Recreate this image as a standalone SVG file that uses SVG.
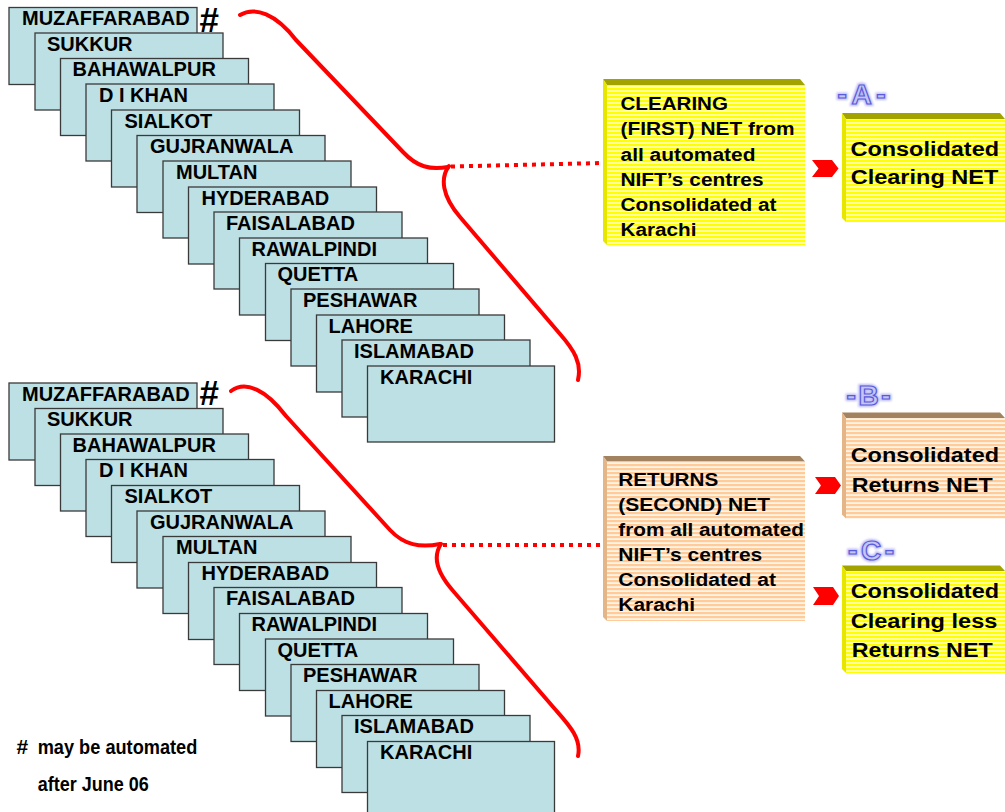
<svg xmlns="http://www.w3.org/2000/svg" width="1005" height="812" viewBox="0 0 1005 812">
<defs>
<pattern id="ys" patternUnits="userSpaceOnUse" width="4" height="4"><rect width="4" height="4" fill="#FFFFC4"/><rect width="4" height="2.2" fill="#FFFF00"/></pattern>
<pattern id="ps" patternUnits="userSpaceOnUse" width="4" height="4"><rect width="4" height="4" fill="#FFF4E8"/><rect width="4" height="2.2" fill="#FFCC99"/></pattern>
<filter id="glow" x="-20%" y="-20%" width="140%" height="140%"><feGaussianBlur stdDeviation="1.2"/></filter>
</defs>
<style>
.card rect{fill:#BCE0E4;stroke:#3a3a3a;stroke-width:1.3}
.card text,.t{font-family:"Liberation Sans",Arial,sans-serif;font-weight:bold;fill:#000}
.card text{font-size:20px}
.bt{font-size:18px}
.rt{font-size:20px}
.yf{fill:url(#ys)}
.pf{fill:url(#ps)}
.ytop{fill:#A3A300}
.yleft{fill:#E6E600}
.ptop{fill:#A3835F}
.pleft{fill:#E3B587}
.brace{fill:none;stroke:#FF0000;stroke-width:4;stroke-linecap:round;stroke-linejoin:round}
.dot{fill:none;stroke:#FF0000;stroke-width:4;stroke-dasharray:4 5}
.chev{fill:#FF0000}
.lbl{font-family:"Liberation Sans",Arial,sans-serif;font-weight:bold;font-size:28px;text-anchor:middle}
.lblh{fill:#8C8CF0;stroke:#8C8CF0;stroke-width:4;opacity:.6;filter:url(#glow)}
.lblf{fill:#C4C6F2;stroke:#5A5ADC;stroke-width:1.2}
.note{font-size:21px}
.hash{font-size:35px}
</style>

<g id="stack1">
<g id="s1-muzaffarabad" class="card" transform="translate(9,7.5)"><rect width="188" height="77"/><text x="13" y="17.5">MUZAFFARABAD</text></g>
<g id="s1-sukkur" class="card" transform="translate(35,33)"><rect width="188" height="77"/><text x="12" y="17.5">SUKKUR</text></g>
<g id="s1-bahawalpur" class="card" transform="translate(60.5,58.5)"><rect width="188" height="77"/><text x="12" y="17.5">BAHAWALPUR</text></g>
<g id="s1-dikhan" class="card" transform="translate(86,84)"><rect width="188" height="77"/><text x="13" y="17.5">D I KHAN</text></g>
<g id="s1-sialkot" class="card" transform="translate(111.5,110)"><rect width="188" height="77"/><text x="13" y="17.5">SIALKOT</text></g>
<g id="s1-gujranwala" class="card" transform="translate(137,135.5)"><rect width="188" height="77"/><text x="13" y="17.5">GUJRANWALA</text></g>
<g id="s1-multan" class="card" transform="translate(163,161)"><rect width="188" height="77"/><text x="13" y="17.5">MULTAN</text></g>
<g id="s1-hyderabad" class="card" transform="translate(188.5,187)"><rect width="188" height="77"/><text x="13" y="17.5">HYDERABAD</text></g>
<g id="s1-faisalabad" class="card" transform="translate(214,212)"><rect width="188" height="77"/><text x="12" y="17.5">FAISALABAD</text></g>
<g id="s1-rawalpindi" class="card" transform="translate(239.5,238)"><rect width="188" height="77"/><text x="12" y="17.5">RAWALPINDI</text></g>
<g id="s1-quetta" class="card" transform="translate(265.5,263.5)"><rect width="188" height="77"/><text x="12" y="17.5">QUETTA</text></g>
<g id="s1-peshawar" class="card" transform="translate(291,289)"><rect width="188" height="77"/><text x="12" y="17.5">PESHAWAR</text></g>
<g id="s1-lahore" class="card" transform="translate(316.5,315)"><rect width="188" height="77"/><text x="12" y="17.5">LAHORE</text></g>
<g id="s1-islamabad" class="card" transform="translate(342,340)"><rect width="188" height="77"/><text x="12" y="17.5">ISLAMABAD</text></g>
<g id="s1-karachi" class="card" transform="translate(367.5,366)"><rect width="187" height="76"/><text x="12.5" y="17.5">KARACHI</text></g>
<text id="s1-hash" class="t hash" x="199.5" y="31.5">#</text>
</g>

<g id="stack2" transform="translate(0,375.5)">
<g id="s2-muzaffarabad" class="card" transform="translate(9,7.5)"><rect width="188" height="77"/><text x="13" y="17.5">MUZAFFARABAD</text></g>
<g id="s2-sukkur" class="card" transform="translate(35,33)"><rect width="188" height="77"/><text x="12" y="17.5">SUKKUR</text></g>
<g id="s2-bahawalpur" class="card" transform="translate(60.5,58.5)"><rect width="188" height="77"/><text x="12" y="17.5">BAHAWALPUR</text></g>
<g id="s2-dikhan" class="card" transform="translate(86,84)"><rect width="188" height="77"/><text x="13" y="17.5">D I KHAN</text></g>
<g id="s2-sialkot" class="card" transform="translate(111.5,110)"><rect width="188" height="77"/><text x="13" y="17.5">SIALKOT</text></g>
<g id="s2-gujranwala" class="card" transform="translate(137,135.5)"><rect width="188" height="77"/><text x="13" y="17.5">GUJRANWALA</text></g>
<g id="s2-multan" class="card" transform="translate(163,161)"><rect width="188" height="77"/><text x="13" y="17.5">MULTAN</text></g>
<g id="s2-hyderabad" class="card" transform="translate(188.5,187)"><rect width="188" height="77"/><text x="13" y="17.5">HYDERABAD</text></g>
<g id="s2-faisalabad" class="card" transform="translate(214,212)"><rect width="188" height="77"/><text x="12" y="17.5">FAISALABAD</text></g>
<g id="s2-rawalpindi" class="card" transform="translate(239.5,238)"><rect width="188" height="77"/><text x="12" y="17.5">RAWALPINDI</text></g>
<g id="s2-quetta" class="card" transform="translate(265.5,263.5)"><rect width="188" height="77"/><text x="12" y="17.5">QUETTA</text></g>
<g id="s2-peshawar" class="card" transform="translate(291,289)"><rect width="188" height="77"/><text x="12" y="17.5">PESHAWAR</text></g>
<g id="s2-lahore" class="card" transform="translate(316.5,315)"><rect width="188" height="77"/><text x="12" y="17.5">LAHORE</text></g>
<g id="s2-islamabad" class="card" transform="translate(342,340)"><rect width="188" height="77"/><text x="12" y="17.5">ISLAMABAD</text></g>
<g id="s2-karachi" class="card" transform="translate(367.5,366)"><rect width="187" height="76"/><text x="12.5" y="17.5">KARACHI</text></g>
<text id="s2-hash" class="t hash" x="199.5" y="29.5">#</text>
</g>

<g id="connectors">
<path class="brace" d="M240,15 C255,6 276,14 296,40 L403,152 C417,167 430,170 448,167"/>
<path class="brace" d="M449,166 C440,178 442,196 460,217 L560,334 C574,350 582,363 578,380"/>
<path class="dot" d="M451,166.5 L603,163"/>
<path class="brace" d="M231,391 C246,380 266,390 286,416 L390,530 C404,545 420,548 440,544"/>
<path class="brace" d="M441,544 C433,556 436,572 454,592 L554,708 C568,724 582,738 578,756"/>
<path class="dot" d="M443,545 L603,545"/>
<polygon class="chev" points="812,160 832,160 838.5,168.5 832,177 812,177 818.5,168.5"/>
<polygon class="chev" points="815,477 835,477 841,485.5 835,494 815,494 821,485.5"/>
<polygon class="chev" points="813,587 833,587 839,596 833,605 813,605 819,596"/>
</g>

<g id="box-clearing">
<polygon class="ytop" points="603,79 800,79 805,85 607,85"/>
<polygon class="yleft" points="603,79 607,85 607,245 603,241"/>
<rect class="yf" x="607" y="85" width="198" height="160"/>
<text class="t bt" x="620.5" y="109.5" textLength="107.5" lengthAdjust="spacingAndGlyphs">CLEARING</text>
<text class="t bt" x="620.5" y="134.7" textLength="174" lengthAdjust="spacingAndGlyphs">(FIRST) NET from</text>
<text class="t bt" x="620.5" y="160.5" textLength="135" lengthAdjust="spacingAndGlyphs">all automated</text>
<text class="t bt" x="620.5" y="185.5" textLength="143" lengthAdjust="spacingAndGlyphs">NIFT’s centres</text>
<text class="t bt" x="620.5" y="210.5" textLength="156" lengthAdjust="spacingAndGlyphs">Consolidated at</text>
<text class="t bt" x="620.5" y="235.5" textLength="76" lengthAdjust="spacingAndGlyphs">Karachi</text>
</g>

<g id="box-returns">
<polygon class="ptop" points="603,456 800,456 805,461.5 607,461.5"/>
<polygon class="pleft" points="603,456 607,461.5 607,621 603,617"/>
<rect class="pf" x="607" y="461.5" width="198" height="159.5"/>
<text class="t bt" x="618.3" y="486" textLength="100" lengthAdjust="spacingAndGlyphs">RETURNS</text>
<text class="t bt" x="618.3" y="511" textLength="151.7" lengthAdjust="spacingAndGlyphs">(SECOND) NET</text>
<text class="t bt" x="618.3" y="536" textLength="185.7" lengthAdjust="spacingAndGlyphs">from all automated</text>
<text class="t bt" x="618.3" y="561" textLength="144" lengthAdjust="spacingAndGlyphs">NIFT’s centres</text>
<text class="t bt" x="618.3" y="586" textLength="157.7" lengthAdjust="spacingAndGlyphs">Consolidated at</text>
<text class="t bt" x="618.3" y="611" textLength="76.7" lengthAdjust="spacingAndGlyphs">Karachi</text>
</g>

<g id="box-a">
<polygon class="ytop" points="842,113 1000,113 1005,119 846,119"/>
<polygon class="yleft" points="842,113 846,119 846,222 842,218"/>
<rect class="yf" x="846" y="119" width="159" height="103"/>
<text class="t rt" x="850.5" y="156" textLength="148.5" lengthAdjust="spacingAndGlyphs">Consolidated</text>
<text class="t rt" x="850.7" y="184.3" textLength="147.6" lengthAdjust="spacingAndGlyphs">Clearing NET</text>
</g>

<g id="box-b">
<polygon class="ptop" points="842,412.5 1000,412.5 1005,418 846,418"/>
<polygon class="pleft" points="842,412.5 846,418 846,518.5 842,514.5"/>
<rect class="pf" x="846" y="418" width="159" height="100.5"/>
<text class="t rt" x="850.7" y="462" textLength="148.3" lengthAdjust="spacingAndGlyphs">Consolidated</text>
<text class="t rt" x="851.7" y="491.7" textLength="141" lengthAdjust="spacingAndGlyphs">Returns NET</text>
</g>

<g id="box-c">
<polygon class="ytop" points="842,565.5 1000,565.5 1005,571 846,571"/>
<polygon class="yleft" points="842,565.5 846,571 846,673 842,669"/>
<rect class="yf" x="846" y="571" width="159" height="102"/>
<text class="t rt" x="850.7" y="598" textLength="148.3" lengthAdjust="spacingAndGlyphs">Consolidated</text>
<text class="t rt" x="850.7" y="628.3" textLength="146.7" lengthAdjust="spacingAndGlyphs">Clearing less</text>
<text class="t rt" x="851.7" y="657.3" textLength="141" lengthAdjust="spacingAndGlyphs">Returns NET</text>
</g>

<g id="label-a">
<text class="lbl lblh" x="861.5" y="104" textLength="48" lengthAdjust="spacing">-A-</text>
<text class="lbl lblf" x="861.5" y="104" textLength="48" lengthAdjust="spacing">-A-</text>
</g>
<g id="label-b">
<text class="lbl lblh" x="868.5" y="405" textLength="44" lengthAdjust="spacing">-B-</text>
<text class="lbl lblf" x="868.5" y="405" textLength="44" lengthAdjust="spacing">-B-</text>
</g>
<g id="label-c">
<text class="lbl lblh" x="871" y="559.5" textLength="46" lengthAdjust="spacing">-C-</text>
<text class="lbl lblf" x="871" y="559.5" textLength="46" lengthAdjust="spacing">-C-</text>
</g>

<g id="note">
<text class="t note" x="16.5" y="754">#</text>
<text class="t note" x="37.7" y="754" textLength="159.6" lengthAdjust="spacingAndGlyphs">may be automated</text>
<text class="t note" x="37.7" y="790.5" textLength="111" lengthAdjust="spacingAndGlyphs">after June 06</text>
</g>
</svg>
